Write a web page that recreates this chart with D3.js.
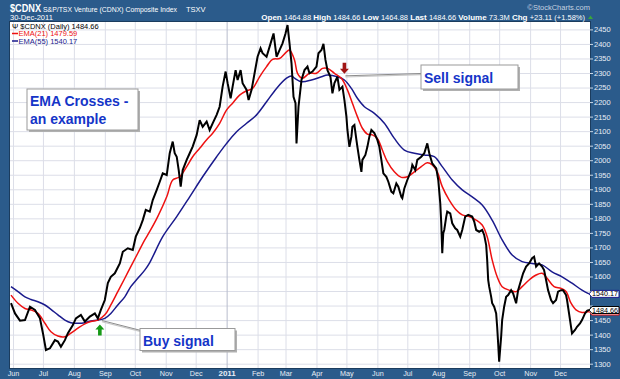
<!DOCTYPE html>
<html><head><meta charset="utf-8">
<script src="https://cdn.jsdelivr.net/npm/d3@7"></script>
<style>html,body{margin:0;padding:0;background:#2b5b8b;}svg{display:block;font-family:"Liberation Sans",Arial,sans-serif;}</style>
</head><body>
<svg id="c" width="620" height="379"></svg>
<script>
// ---- data ----
const closeSeries = [
["2010-05-30",1508],["2010-06-03",1473],["2010-06-08",1448],["2010-06-13",1450],["2010-06-18",1496],["2010-06-23",1485],["2010-06-28",1456],
["2010-07-01",1405],["2010-07-04",1347],["2010-07-08",1353],["2010-07-13",1381],["2010-07-16",1376],["2010-07-19",1358],["2010-07-23",1381],["2010-07-26",1405],["2010-07-31",1433],
["2010-08-03",1456],["2010-08-08",1468],["2010-08-12",1445],["2010-08-17",1462],["2010-08-22",1473],["2010-08-25",1456],["2010-08-28",1485],
["2010-09-01",1519],["2010-09-04",1577],["2010-09-07",1599],["2010-09-11",1611],["2010-09-16",1645],["2010-09-19",1685],["2010-09-24",1697],["2010-09-29",1691],
["2010-10-02",1737],["2010-10-06",1766],["2010-10-09",1794],["2010-10-12",1829],["2010-10-16",1823],["2010-10-19",1863],["2010-10-23",1898],["2010-10-26",1926],["2010-10-29",1955],
["2010-11-02",1949],["2010-11-05",2024],["2010-11-08",2064],["2010-11-10",2024],["2010-11-12",2012],["2010-11-14",1966],["2010-11-16",1909],["2010-11-18",1966],["2010-11-22",2001],["2010-11-25",2024],["2010-11-28",2047],
["2010-12-02",2087],["2010-12-05",2138],["2010-12-08",2115],["2010-12-12",2133],["2010-12-15",2104],["2010-12-18",2127],["2010-12-22",2156],["2010-12-25",2184],["2010-12-28",2253],["2010-12-31",2305],
["2011-01-02",2265],["2011-01-05",2213],["2011-01-07",2253],["2011-01-10",2310],["2011-01-12",2276],["2011-01-15",2310],["2011-01-17",2265],["2011-01-21",2242],["2011-01-23",2207],["2011-01-26",2242],["2011-01-29",2299],
["2011-02-01",2356],["2011-02-04",2385],["2011-02-06",2368],["2011-02-10",2356],["2011-02-13",2390],["2011-02-17",2436],["2011-02-20",2356],["2011-02-23",2379],["2011-02-26",2402],
["2011-03-01",2436],["2011-03-03",2465],["2011-03-05",2402],["2011-03-07",2333],["2011-03-09",2218],["2011-03-11",2196],["2011-03-12",2058],["2011-03-14",2184],["2011-03-17",2276],["2011-03-20",2310],["2011-03-23",2322],["2011-03-25",2299],["2011-03-28",2305],
["2011-04-01",2322],["2011-04-03",2368],["2011-04-06",2379],["2011-04-08",2400],["2011-04-10",2345],["2011-04-12",2310],["2011-04-15",2287],["2011-04-17",2230],["2011-04-19",2265],["2011-04-22",2287],["2011-04-24",2242],["2011-04-27",2253],["2011-04-29",2207],
["2011-05-01",2150],["2011-05-02",2104],["2011-05-04",2046],["2011-05-06",2081],["2011-05-07",2115],["2011-05-09",2121],["2011-05-11",2070],["2011-05-12",2046],["2011-05-14",2001],["2011-05-16",1960],["2011-05-17",2001],["2011-05-20",2018],["2011-05-22",2046],["2011-05-24",2081],["2011-05-26",2104],["2011-05-29",2093],
["2011-06-01",2070],["2011-06-03",2046],["2011-06-05",2001],["2011-06-07",1955],["2011-06-10",1943],["2011-06-12",1926],["2011-06-15",1892],["2011-06-17",1886],["2011-06-20",1920],["2011-06-22",1909],["2011-06-25",1874],["2011-06-26",1869],["2011-06-28",1903],
["2011-07-01",1932],["2011-07-05",1966],["2011-07-06",1984],["2011-07-09",1966],["2011-07-11",2001],["2011-07-15",2012],["2011-07-18",2024],["2011-07-21",2058],["2011-07-23",2024],["2011-07-26",1989],["2011-07-30",1972],
["2011-08-01",1932],["2011-08-03",1852],["2011-08-04",1783],["2011-08-05",1680],["2011-08-06",1749],["2011-08-07",1760],["2011-08-09",1806],["2011-08-10",1823],["2011-08-13",1817],["2011-08-15",1783],["2011-08-18",1766],["2011-08-20",1760],["2011-08-23",1737],["2011-08-25",1760],["2011-08-28",1806],["2011-08-31",1812],
["2011-09-04",1806],["2011-09-06",1789],["2011-09-08",1760],["2011-09-11",1754],["2011-09-14",1760],["2011-09-16",1743],["2011-09-18",1708],["2011-09-19",1657],["2011-09-20",1588],["2011-09-21",1565],["2011-09-23",1530],["2011-09-24",1508],["2011-09-26",1496],["2011-09-28",1473],["2011-09-29",1427],["2011-09-30",1370],
["2011-10-01",1307],["2011-10-03",1393],["2011-10-04",1450],["2011-10-06",1496],["2011-10-08",1530],["2011-10-10",1536],["2011-10-13",1553],["2011-10-15",1542],["2011-10-18",1508],["2011-10-20",1553],["2011-10-23",1588],["2011-10-25",1611],["2011-10-28",1634],["2011-10-31",1645],
["2011-11-03",1663],["2011-11-05",1668],["2011-11-07",1634],["2011-11-10",1645],["2011-11-13",1634],["2011-11-15",1622],["2011-11-17",1588],["2011-11-19",1553],["2011-11-22",1519],["2011-11-24",1508],["2011-11-27",1519],["2011-11-29",1548],
["2011-12-02",1553],["2011-12-04",1553],["2011-12-07",1536],["2011-12-08",1519],["2011-12-10",1473],["2011-12-12",1427],["2011-12-13",1404],["2011-12-16",1416],["2011-12-18",1427],["2011-12-21",1439],["2011-12-23",1450],["2011-12-26",1473],["2011-12-28",1482],["2011-12-30",1484.66]
];
const ema21Series = [
["2010-05-30",1536],["2010-06-06",1508],["2010-06-13",1490],["2010-06-19",1485],["2010-06-26",1473],["2010-07-03",1439],["2010-07-09",1410],["2010-07-16",1395],["2010-07-23",1393],["2010-07-29",1405],
["2010-08-05",1422],["2010-08-12",1437],["2010-08-18",1445],["2010-08-25",1450],["2010-09-01",1468],["2010-09-07",1502],["2010-09-14",1548],["2010-09-21",1594],["2010-09-27",1634],
["2010-10-04",1680],["2010-10-11",1726],["2010-10-16",1755],["2010-10-24",1806],["2010-11-02",1874],["2010-11-08",1932],["2010-11-15",1943],["2010-11-22",1978],["2010-11-28",2012],
["2010-12-05",2041],["2010-12-12",2070],["2010-12-18",2093],["2010-12-25",2127],["2011-01-01",2173],["2011-01-07",2196],["2011-01-14",2224],["2011-01-21",2239],["2011-01-27",2247],
["2011-02-03",2287],["2011-02-10",2322],["2011-02-16",2347],["2011-02-23",2350],["2011-03-02",2373],["2011-03-05",2379],["2011-03-10",2345],["2011-03-13",2299],["2011-03-18",2282],["2011-03-25",2299],
["2011-04-01",2299],["2011-04-07",2316],["2011-04-12",2316],["2011-04-19",2299],["2011-04-26",2282],["2011-05-02",2242],["2011-05-07",2196],["2011-05-12",2150],["2011-05-17",2110],["2011-05-22",2090],["2011-05-27",2087],
["2011-06-01",2075],["2011-06-06",2035],["2011-06-11",1995],["2011-06-18",1960],["2011-06-25",1941],["2011-07-01",1943],["2011-07-08",1960],["2011-07-15",1978],["2011-07-21",1991],["2011-07-26",1984],["2011-07-31",1960],
["2011-08-05",1909],["2011-08-12",1863],["2011-08-19",1829],["2011-08-25",1812],["2011-09-01",1806],["2011-09-08",1794],["2011-09-14",1777],["2011-09-19",1737],["2011-09-24",1657],["2011-09-29",1599],
["2011-10-04",1565],["2011-10-11",1553],["2011-10-18",1548],["2011-10-24",1565],["2011-10-31",1588],["2011-11-07",1605],["2011-11-13",1611],["2011-11-18",1594],["2011-11-25",1565],
["2011-12-02",1559],["2011-12-07",1548],["2011-12-12",1508],["2011-12-17",1485],["2011-12-23",1476],["2011-12-30",1479.59]
];
const ema55Series = [
["2010-05-30",1565],["2010-06-06",1548],["2010-06-13",1530],["2010-06-19",1521],["2010-06-26",1513],["2010-07-03",1502],["2010-07-09",1487],["2010-07-16",1468],["2010-07-23",1450],["2010-07-29",1441],
["2010-08-05",1439],["2010-08-12",1441],["2010-08-18",1447],["2010-08-25",1450],["2010-09-01",1456],["2010-09-07",1473],["2010-09-14",1502],["2010-09-21",1530],["2010-09-27",1565],
["2010-10-04",1594],["2010-10-11",1622],["2010-10-16",1648],["2010-10-29",1737],["2010-11-12",1806],["2010-11-25",1874],["2010-12-08",1943],["2010-12-22",2012],
["2011-01-01",2058],["2011-01-11",2098],["2011-01-21",2127],["2011-01-31",2156],["2011-02-10",2201],["2011-02-20",2247],["2011-03-02",2282],["2011-03-07",2290],["2011-03-10",2282],["2011-03-17",2270],["2011-03-27",2276],
["2011-04-06",2287],["2011-04-12",2293],["2011-04-22",2287],["2011-04-29",2276],["2011-05-06",2247],["2011-05-12",2213],["2011-05-19",2184],["2011-05-29",2161],["2011-06-08",2127],["2011-06-18",2075],["2011-06-28",2035],
["2011-07-08",2024],["2011-07-18",2018],["2011-07-28",2012],["2011-08-05",1978],["2011-08-15",1932],["2011-08-25",1898],["2011-09-04",1874],["2011-09-14",1846],["2011-09-24",1794],
["2011-10-04",1726],["2011-10-14",1674],["2011-10-24",1651],["2011-11-03",1645],["2011-11-13",1640],["2011-11-23",1616],["2011-12-03",1599],["2011-12-13",1577],["2011-12-23",1553],["2011-12-30",1540.17]
];
const yTicks = [1300,1350,1400,1450,1500,1550,1600,1650,1700,1750,1800,1850,1900,1950,2000,2050,2100,2150,2200,2250,2300,2350,2400,2450];
const monthTicks = ["2010-06-01","2010-07-01","2010-08-01","2010-09-01","2010-10-01","2010-11-01","2010-12-01","2011-01-01","2011-02-01","2011-03-01","2011-04-01","2011-05-01","2011-06-01","2011-07-01","2011-08-01","2011-09-01","2011-10-01","2011-11-01","2011-12-01"];
const monthLabels = ["Jun","Jul","Aug","Sep","Oct","Nov","Dec","2011","Feb","Mar","Apr","May","Jun","Jul","Aug","Sep","Oct","Nov","Dec"];
const quoteFields = [["Open","1464.88"],["High","1484.66"],["Low","1464.88"],["Last","1484.66"],["Volume","73.3M"],["Chg","+23.11 (+1.58%)"]];
const lastClose = 1484.66, lastEma21 = 1479.59, lastEma55 = 1540.17;
const buySignal = ["2010-08-27",1452], sellSignal = ["2011-04-29",2280];

// ---- drawing ----
const W=620,H=379, P={l:10,t:22,r:590,b:368};
const parse=d3.timeParse("%Y-%m-%d");
const x=d3.scaleTime().domain([parse("2010-05-29"),parse("2011-12-31")]).range([P.l,P.r]);
const y=d3.scaleLinear().domain([1300,2450]).range([363.7,29.4]);
const svg=d3.select("#c");
const BG="#2b5b8b";
svg.append("rect").attr("width",W).attr("height",H).attr("fill",BG);
svg.append("rect").attr("x",P.l).attr("y",P.t).attr("width",P.r-P.l).attr("height",P.b-P.t).attr("fill","#fff");
const defs=svg.append("defs");
defs.append("clipPath").attr("id","clip").append("rect").attr("x",P.l).attr("y",P.t).attr("width",P.r-P.l).attr("height",P.b-P.t);

// grids
const gy=svg.append("g").attr("transform",`translate(${P.l},0)`)
  .call(d3.axisLeft(y).tickValues(yTicks).tickSize(-(P.r-P.l)).tickFormat(""));
gy.select(".domain").remove();
gy.selectAll("line").attr("stroke","#dcdee8");
const gx=svg.append("g").attr("transform",`translate(0,${P.b})`)
  .call(d3.axisBottom(x).tickValues(monthTicks.map(parse)).tickSize(-(P.b-P.t)).tickFormat(""));
gx.select(".domain").remove();
gx.selectAll("line").attr("stroke",(d,i)=>monthLabels[i]==="2011"?"#b8bccc":"#dcdee8");

// series
const g=svg.append("g").attr("clip-path","url(#clip)");
const lineC=d3.line().x(d=>x(parse(d[0]))).y(d=>y(d[1]));
const lineS=d3.line().x(d=>x(parse(d[0]))).y(d=>y(d[1])).curve(d3.curveCatmullRom.alpha(0.5));
g.append("path").datum(ema55Series).attr("d",lineS).attr("fill","none").attr("stroke","#1a1a8c").attr("stroke-width",1.5);
g.append("path").datum(ema21Series).attr("d",lineS).attr("fill","none").attr("stroke","#ee1111").attr("stroke-width",1.5);
g.append("path").datum(closeSeries).attr("d",lineC).attr("fill","none").attr("stroke","#000").attr("stroke-width",2).attr("stroke-linejoin","miter").attr("stroke-miterlimit",3);

// plot border
svg.append("rect").attr("x",P.l-0.5).attr("y",P.t-0.5).attr("width",P.r-P.l+1).attr("height",P.b-P.t+1).attr("fill","none").attr("stroke","#1b3c5e").attr("stroke-width",1);

// y axis (labels under the value tags are covered, as in the reference)
const covered=v=>[lastEma55,lastClose].some(t=>Math.abs(y(v)-y(t))<8);
const ya=svg.append("g").attr("transform",`translate(${P.r},0)`)
  .call(d3.axisRight(y).tickValues(yTicks).tickSize(3).tickPadding(1).tickFormat(d3.format("d")));
ya.select(".domain").remove();
ya.selectAll("line").attr("stroke","#c9d6e4");
ya.selectAll("text").attr("fill","#e8eef5").attr("font-size","7.5px").attr("font-family","Liberation Sans, Arial, sans-serif")
  .style("display",d=>covered(d)?"none":null);

// x axis
const xa=svg.append("g").attr("transform",`translate(0,${P.b})`)
  .call(d3.axisBottom(x).tickValues(monthTicks.map(parse)).tickSize(0).tickPadding(2.5).tickFormat((d,i)=>monthLabels[i]));
xa.select(".domain").remove();
xa.selectAll("text").attr("fill","#e8eef5").attr("font-family","Liberation Sans, Arial, sans-serif")
  .attr("font-weight",(d,i)=>monthLabels[i]==="2011"?"bold":"normal").attr("font-size",(d,i)=>monthLabels[i]==="2011"?"8px":"7.2px");

// value tags on right axis
function tag(v,stroke,withText){
  const cy=y(v);
  const t=svg.append("g");
  t.append("path").attr("d",`M${P.r-1},${cy} L${P.r+2},${cy-3.5} L619,${cy-3.5} L619,${cy+3.5} L${P.r+2},${cy+3.5} Z`).attr("fill","#fff").attr("stroke",stroke).attr("stroke-width",1);
  if(withText) t.append("text").attr("x",605).attr("y",cy+2.6).attr("text-anchor","middle").attr("font-size","7.2px").attr("fill","#000").text(v.toFixed(2));
}
tag(lastEma55,"#1a1a8c",true);
tag(lastEma21,"#ee1111",false);
tag(lastClose,"#000",true);

// header
const wt="#ffffff";
svg.append("text").attr("x",10).attr("y",12).attr("font-weight","bold").attr("font-size","11px").attr("fill",wt).attr("textLength",31).attr("lengthAdjust","spacingAndGlyphs").text("$CDNX");
svg.append("text").attr("x",43).attr("y",12).attr("font-size","7px").attr("fill",wt).attr("textLength",134).attr("lengthAdjust","spacingAndGlyphs").text("S&P/TSX Venture (CDNX) Composite Index");
svg.append("text").attr("x",186).attr("y",12).attr("font-size","7.5px").attr("fill",wt).text("TSXV");
svg.append("text").attr("x",10).attr("y",19.5).attr("font-size","7.5px").attr("fill",wt).text("30-Dec-2011");
svg.append("text").attr("x",590).attr("y",10).attr("text-anchor","end").attr("font-size","7.5px").attr("fill","#c5d2e0").text("©StockCharts.com");
const q=svg.append("text").attr("x",585).attr("y",19.5).attr("text-anchor","end").attr("font-size","7.5px").attr("fill",wt);
quoteFields.forEach((f,i)=>{
  q.append("tspan").attr("font-weight","bold").attr("font-size","8px").text((i?"  ":"")+f[0]+" ");
  q.append("tspan").text(f[1]);
});
svg.append("path").attr("d","M588,19 L593,19 L590.5,15.5 Z").attr("fill","#3aa63a");

// legend
svg.append("text").attr("x",12).attr("y",28.5).attr("font-size","7.5px").attr("fill","#000").text("Ψ $CDNX (Daily) "+lastClose.toFixed(2));
[["EMA(21) "+lastEma21.toFixed(2),"#ee1111",36],["EMA(55) "+lastEma55.toFixed(2),"#1a1a8c",43.5]].forEach(l=>{
  svg.append("line").attr("x1",12).attr("x2",18).attr("y1",l[2]-2.5).attr("y2",l[2]-2.5).attr("stroke",l[1]).attr("stroke-width",1.5);
  svg.append("text").attr("x",18.5).attr("y",l[2]).attr("font-size","7.5px").attr("fill",l[1]).text(l[0]);
});

// callouts
function box(x0,y0,w,h,lines,fs,lh){
  const b=svg.append("g");
  b.append("rect").attr("x",x0+2).attr("y",y0+2).attr("width",w).attr("height",h).attr("fill","#b0b0b0");
  b.append("rect").attr("x",x0).attr("y",y0).attr("width",w).attr("height",h).attr("fill","#fff").attr("stroke","#9a9a9a").attr("stroke-width",1);
  lines.forEach((t,i)=>b.append("text").attr("x",x0+3).attr("y",y0+lh*(i+1)-(lh-fs)*0.2).attr("font-size",fs+"px").attr("font-weight","bold").attr("fill","#1535c8").text(t));
}
function leader(x1,y1,x2,y2){
  svg.append("line").attr("x1",x1).attr("y1",y1+1.2).attr("x2",x2).attr("y2",y2+1.2).attr("stroke","#c8c8c8").attr("stroke-width",1.2);
  svg.append("line").attr("x1",x1).attr("y1",y1).attr("x2",x2).attr("y2",y2).attr("stroke","#8c8c8c").attr("stroke-width",1);
}
const bx=x(parse(buySignal[0])), by=y(buySignal[1]);
const sx=x(parse(sellSignal[0])), sy=y(sellSignal[1]);
leader(bx+2,by+1,141,330.5);
leader(sx+1,sy-3,421,73.5);
box(27,89,111,41,["EMA Crosses -","an example"],14,18);
box(140,328.5,95,22,["Buy signal"],14,18.5);
box(421,65,97,24,["Sell signal"],14,19);
// arrows
svg.append("path").attr("d",`M${bx},${by+5} L${bx+4.5},${by+10} L${bx+1.8},${by+10} L${bx+1.8},${by+16} L${bx-1.8},${by+16} L${bx-1.8},${by+10} L${bx-4.5},${by+10} Z`).attr("fill","#179a17");
svg.append("path").attr("d",`M${sx},${sy-5} L${sx+4.5},${sy-10} L${sx+1.8},${sy-10} L${sx+1.8},${sy-16} L${sx-1.8},${sy-16} L${sx-1.8},${sy-10} L${sx-4.5},${sy-10} Z`).attr("fill","#a01414");
</script>
</body></html>
